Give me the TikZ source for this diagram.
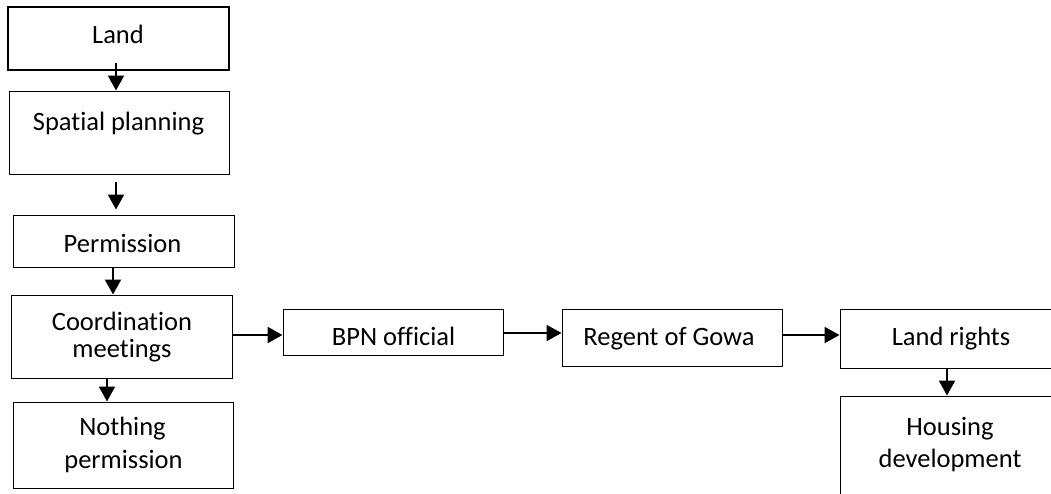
\documentclass[tikz,border=0pt]{standalone}
\usepackage{fontspec}
\setmainfont{Carlito}[Ligatures={NoCommon}]
\usetikzlibrary{arrows.meta}
\begin{document}
\begin{tikzpicture}[x=1pt,y=-1pt,
  box/.style={draw=black,line width=1pt,inner sep=0pt,minimum width=220pt},
  txt/.style={font=\fontsize{26.5}{32}\selectfont,inner sep=0pt,anchor=base},
  arr/.style={line width=2.2pt,-{Triangle[width=16pt,length=15pt]}}]
\useasboundingbox (0,0) rectangle (1051,493);
\clip (0,0) rectangle (1051,493);
\node[box,line width=2pt,minimum width=221pt,minimum height=63pt] (land) at (118.5,38.5) {};
\node[box,minimum height=83pt] (spatial) at (119,132.5) {};
\node[box,minimum width=221pt,minimum height=52pt] (perm) at (123.5,241) {};
\node[box,minimum width=221pt,minimum height=83pt] (coord) at (121.5,336.5) {};
\node[box,minimum height=86pt] (nothing) at (123,445) {};
\node[box,minimum height=46pt] (bpn) at (393,332) {};
\node[box,minimum height=57pt] (regent) at (672,337.5) {};
\node[box,minimum height=59pt] (rights) at (950,338.5) {};
\node[box,minimum height=124pt] (housing) at (950,458) {};
\node[txt] (tland) at (118,43) {Land};
\node[txt] (tspatial) at (118.5,130) {Spatial planning};
\node[txt] (tperm) at (122.5,252) {Permission};
\node[txt] (tcoord1) at (122,330) {Coordination};
\node[txt] (tcoord2) at (122,357) {meetings};
\node[txt] (tnothing1) at (122.5,435) {Nothing};
\node[txt] (tnothing2) at (123.5,468) {permission};
\node[txt] (tbpn) at (393.5,345) {BPN official};
\node[txt] (tregent) at (669,345) {Regent of Gowa};
\node[txt] (trights) at (951,345) {Land rights};
\node[txt] (thousing1) at (950,435) {Housing};
\node[txt] (thousing2) at (950,467) {development};
\draw[arr] ([xshift=-2.5pt,yshift=8pt]land.south) -- ([xshift=-3pt]spatial.north);
\draw[arr,shorten <=7pt,shorten >=5pt] ([xshift=-3pt]spatial.south) -- ([xshift=-3pt]spatial.south |- perm.north);
\draw[arr] ([xshift=-10.5pt]perm.south) -- ([xshift=-8.5pt]coord.north);
\draw[arr] ([xshift=-14.5pt]coord.south) -- ([xshift=-16pt]nothing.north);
\draw[arr] ([yshift=1.5pt]coord.east) -- ([yshift=1.5pt]coord.east -| bpn.west);
\draw[arr] ([yshift=-1pt]bpn.east) -- ([yshift=-1pt]bpn.east -| regent.west);
\draw[arr] ([yshift=2.5pt]regent.east) -- ([yshift=2.5pt]regent.east -| rights.west);
\draw[arr] ([xshift=-3pt]rights.south) -- ([xshift=-3pt]housing.north);
\end{tikzpicture}
\end{document}
